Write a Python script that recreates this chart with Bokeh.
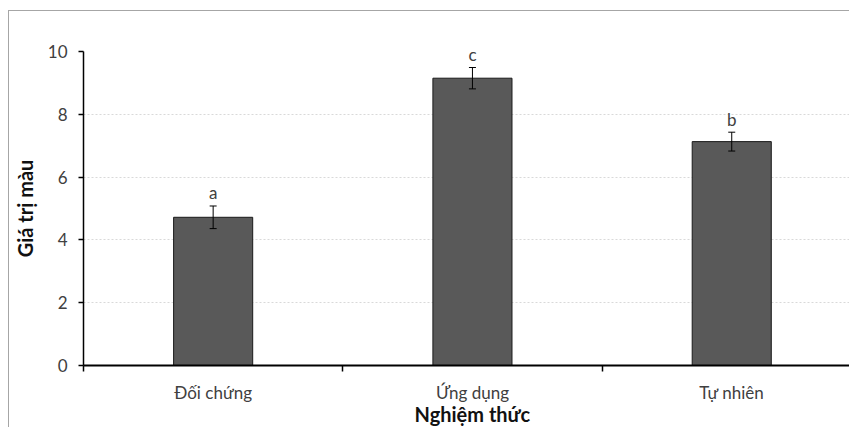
from bokeh.plotting import figure
from bokeh.models import ColumnDataSource, Range1d, FixedTicker, Whisker, TeeHead, LinearAxis
from bokeh.core.properties import value
from bokeh.embed import file_html
from bokeh.resources import INLINE

# Data
categories = ["Đối chứng", "Ứng dụng", "Tự nhiên"]
means = [4.72, 9.15, 7.13]
errors = [0.36, 0.34, 0.30]
letters = ["a", "c", "b"]
y_ticks = [0, 2, 4, 6, 8, 10]

FONT = "Lato"
LABEL_COLOR = "#404040"
TITLE_COLOR = "#111111"

xs = [i + 0.5 for i in range(len(categories))]
src = ColumnDataSource(dict(
    x=xs,
    top=means,
    upper=[m + e for m, e in zip(means, errors)],
    lower=[m - e for m, e in zip(means, errors)],
    letter=letters,
))

# The chart area sits 8px in and 10px down, with a thin grey border on top/left
W, H = 841, 417
p = figure(width=W, height=H, output_backend="svg", toolbar_location=None,
           x_range=Range1d(0, 2.958), y_range=Range1d(0, 10),
           min_border_left=73, min_border_right=0, min_border_top=40, min_border_bottom=63)
p.styles = {"margin-left": "8px", "margin-top": "10px",
            "border-top": "1px solid #a6a6a6", "border-left": "1px solid #a6a6a6"}
p.outline_line_color = None
p.background_fill_color = "white"
p.border_fill_color = "white"

# Bars
p.vbar(x="x", top="top", bottom=0, width=0.305, source=src,
       fill_color="#595959", line_color="#1a1a1a", line_width=1)

# Error bars
p.add_layout(Whisker(source=src, base="x", upper="upper", lower="lower",
                     line_color="black", line_width=1, level="annotation",
                     upper_head=TeeHead(size=7, line_color="black", line_width=1),
                     lower_head=TeeHead(size=7, line_color="black", line_width=1)))

# Significance letters
p.text(x="x", y="upper", text="letter", source=src, y_offset=-13,
       text_align="center", text_baseline="middle",
       text_font=value(FONT), text_font_size="17px", text_color=LABEL_COLOR)

# Y axis
yax = p.yaxis[0]
yax.ticker = FixedTicker(ticks=y_ticks)
yax.axis_line_color = "black"
yax.axis_line_width = 1.5
yax.major_tick_line_color = "black"
yax.major_tick_line_width = 1.5
yax.major_tick_out = 5
yax.major_tick_in = 0
yax.minor_tick_line_color = None
yax.major_label_text_font = FONT
yax.major_label_text_font_size = "17px"
yax.major_label_text_color = LABEL_COLOR
yax.major_label_standoff = 11
yax.axis_label = "Giá trị màu"
yax.axis_label_text_font = FONT
yax.axis_label_text_font_size = "20px"
yax.axis_label_text_font_style = "bold"
yax.axis_label_text_color = TITLE_COLOR
yax.axis_label_standoff = 8

# X axis: labels at category centres, tick marks at category boundaries
xax = p.xaxis[0]
xax.ticker = FixedTicker(ticks=xs, minor_ticks=[0, 1, 2, 3])
xax.major_label_overrides = {x: c for x, c in zip(xs, categories)}
xax.axis_line_color = "black"
xax.axis_line_width = 2
xax.major_tick_line_color = None
xax.minor_tick_line_color = "black"
xax.minor_tick_line_width = 1.5
xax.minor_tick_out = 6
xax.minor_tick_in = 0
xax.major_label_text_font = FONT
xax.major_label_text_font_size = "17px"
xax.major_label_text_color = LABEL_COLOR
xax.major_label_standoff = 10

# X axis title, centred on the middle category
title_ax = LinearAxis(ticker=FixedTicker(ticks=[1.5]),
                      major_label_overrides={1.5: "Nghiệm thức"})
title_ax.axis_line_color = None
title_ax.major_tick_line_color = None
title_ax.minor_tick_line_color = None
title_ax.major_tick_out = 0
title_ax.major_tick_in = 0
title_ax.major_label_text_font = FONT
title_ax.major_label_text_font_size = "20px"
title_ax.major_label_text_font_style = "bold"
title_ax.major_label_text_color = TITLE_COLOR
title_ax.major_label_standoff = -4
p.add_layout(title_ax, "below")

# Grid
p.xgrid.grid_line_color = None
p.ygrid.ticker = FixedTicker(ticks=y_ticks[1:])
p.ygrid.grid_line_color = "#d9d9d9"
p.ygrid.grid_line_dash = "2 2"
p.ygrid.grid_line_width = 1

open("out.html", "w").write(file_html(p, INLINE))
